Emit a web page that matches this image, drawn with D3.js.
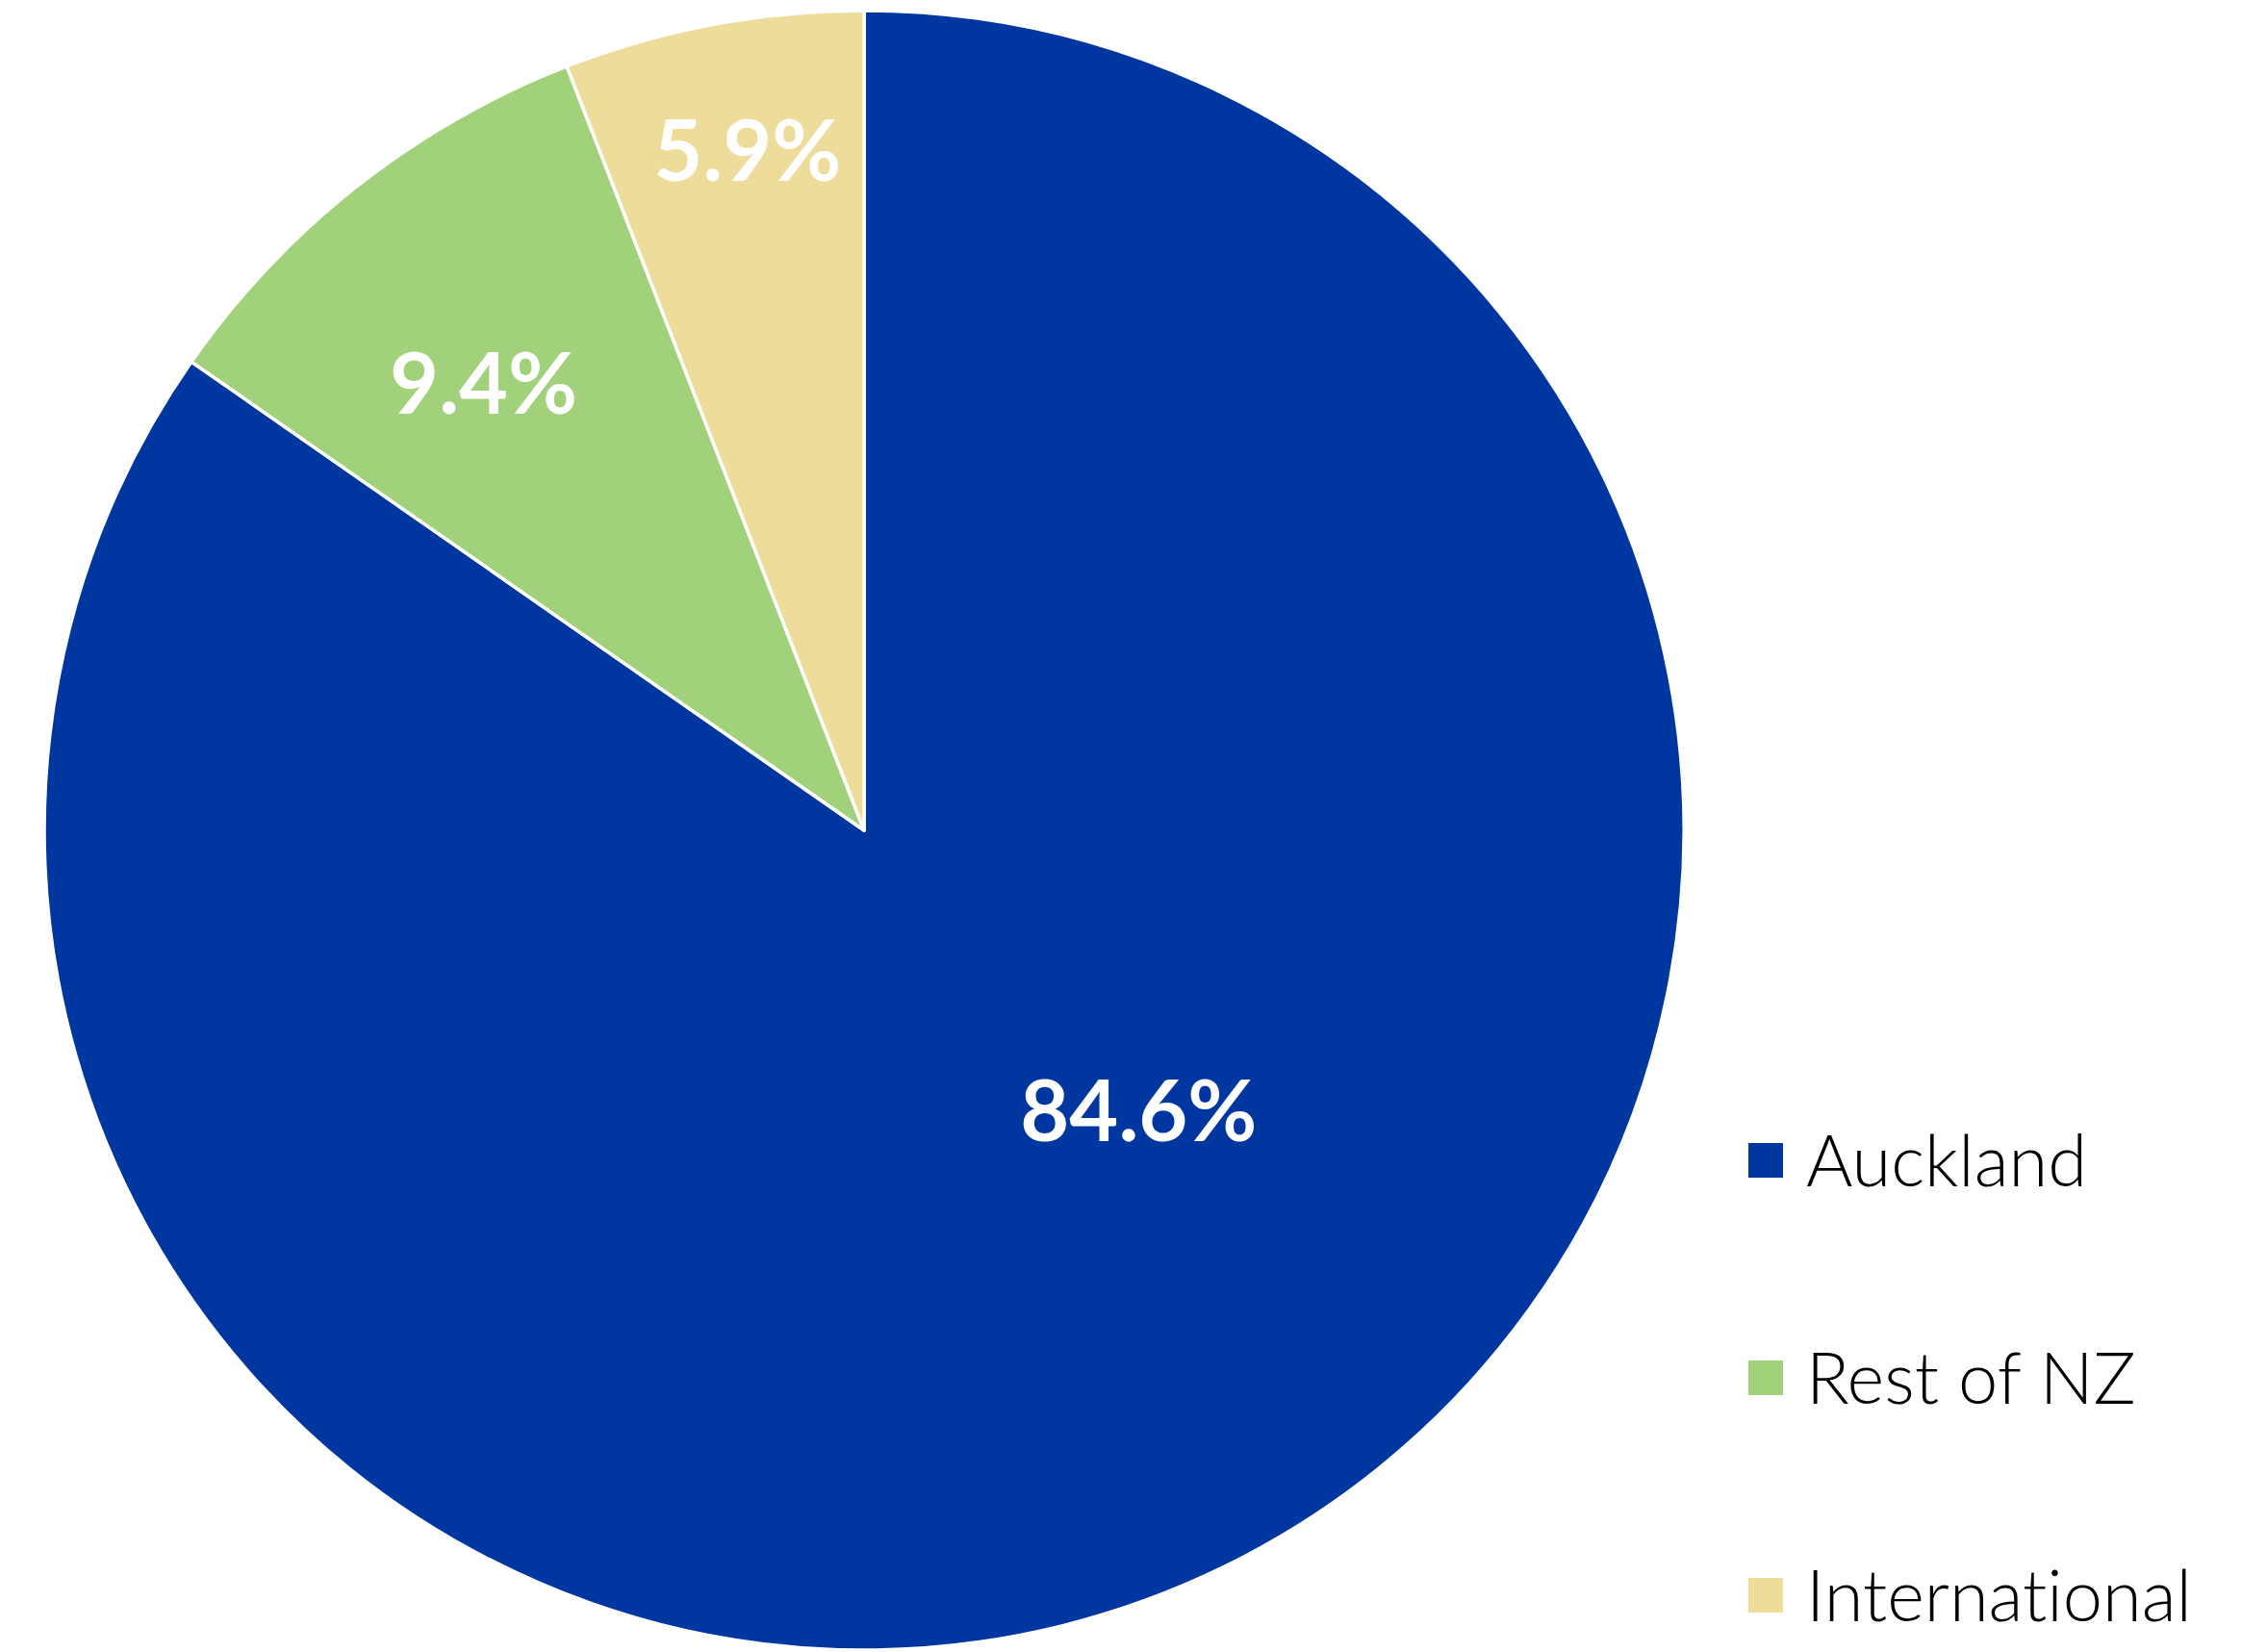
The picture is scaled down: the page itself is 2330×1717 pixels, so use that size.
<!DOCTYPE html>
<html>
<head>
<meta charset="utf-8">
<script src="https://cdn.jsdelivr.net/npm/d3@7"></script>
<style>
  body { margin: 0; background: #fff; }
  text { font-variant-ligatures: none; font-feature-settings: "liga" 0; }
</style>
</head>
<body>
<script>
// data
const regions = ["Auckland", "Rest of NZ", "International"];
const shares = [84.6, 9.4, 5.9];
const colors = ["#0036A0", "#A1D17A", "#EEDC9A"];

const width = 2330;
const height = 1717;
const cx = 898;
const cy = 863;
const radius = 852;

// label placement (fraction of radius, angle nudge in degrees), like Excel's best fit
const labelRadius = [0.479, 0.716, 0.842];
const labelNudge = [-16.8, -2.2, 0.9];

const rows = regions.map((r, i) => ({ region: r, value: shares[i], color: colors[i], i }));

const svg = d3.select("body").append("svg")
    .attr("width", width)
    .attr("height", height)
    .attr("viewBox", [0, 0, width, height]);

const pie = d3.pie()
    .sort(null)
    .value(d => d.value);

const arc = d3.arc()
    .innerRadius(0)
    .outerRadius(radius);

const arcs = pie(rows);

const g = svg.append("g")
    .attr("transform", `translate(${cx},${cy})`);

g.selectAll("path")
    .data(arcs)
    .join("path")
    .attr("d", arc)
    .attr("fill", d => d.data.color)
    .attr("stroke", "#fff")
    .attr("stroke-width", 3.5)
    .attr("stroke-linejoin", "round");

// percentage labels
g.selectAll("text")
    .data(arcs)
    .join("text")
    .attr("transform", d => {
        const a = (d.startAngle + d.endAngle) / 2 + labelNudge[d.data.i] * Math.PI / 180;
        const r = radius * labelRadius[d.data.i];
        return `translate(${r * Math.sin(a)},${-r * Math.cos(a)})`;
    })
    .attr("text-anchor", "middle")
    .attr("dy", "0.36em")
    .attr("fill", "#fff")
    .attr("font-family", "Lato, sans-serif")
    .attr("font-weight", "bold")
    .attr("font-size", 88)
    .text(d => d.data.value.toFixed(1) + "%");

// legend
const legendY = d3.scalePoint()
    .domain(regions)
    .range([1206, 1658]);

const legend = svg.append("g")
    .selectAll("g")
    .data(rows)
    .join("g")
    .attr("transform", d => `translate(1817,${legendY(d.region)})`);

legend.append("rect")
    .attr("x", 0)
    .attr("y", -18)
    .attr("width", 36)
    .attr("height", 36)
    .attr("fill", d => d.color);

legend.append("text")
    .attr("x", 60)
    .attr("y", 27)
    .attr("fill", "#000")
    .attr("font-family", "Lato, sans-serif")
    .attr("font-weight", 300)
    .attr("font-size", 74)
    .text(d => d.region);
</script>
</body>
</html>
